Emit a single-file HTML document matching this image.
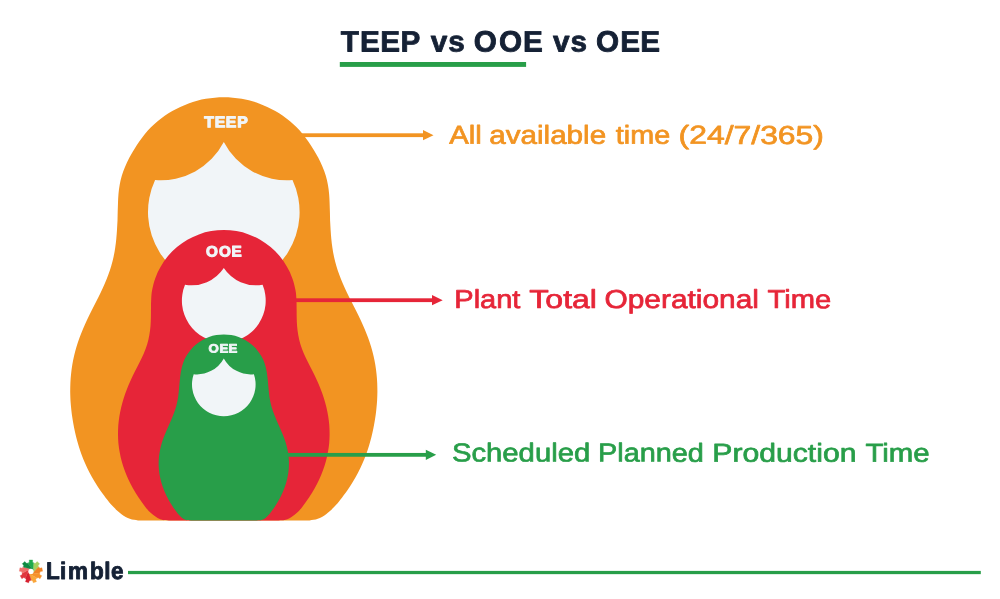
<!DOCTYPE html>
<html><head><meta charset="utf-8"><title>TEEP vs OOE vs OEE</title>
<style>
html,body{margin:0;padding:0;background:#fff}
svg{display:block}
text{font-family:"Liberation Sans",sans-serif;font-weight:700;text-rendering:geometricPrecision}
</style></head><body>
<svg width="1000" height="599" viewBox="0 0 1000 599">
<rect width="1000" height="599" fill="#fff"/>
<rect x="339.8" y="62" width="186.3" height="4.9" fill="#289E49"/>
<!-- dolls -->
<path d="M223.8 97.2 C217.8 97.2 211.8 97.7 205.9 98.8 C200.0 99.8 194.2 101.4 188.6 103.4 C183.0 105.5 177.5 108.0 172.3 111.0 C167.1 114.0 162.2 117.5 157.6 121.3 C153.0 125.1 148.7 129.4 144.9 134.0 C141.1 138.6 137.2 144.7 134.6 148.7 C132.0 152.7 130.9 154.7 129.3 157.7 C127.8 160.7 126.3 163.7 125.1 166.7 C123.8 169.7 122.7 172.7 121.8 175.7 C120.9 178.7 120.2 181.7 119.7 184.7 C119.1 187.7 118.8 190.7 118.5 193.7 C118.2 196.7 118.1 199.7 118.0 202.7 C117.9 205.7 117.8 208.7 117.7 211.7 C117.6 214.7 117.6 217.7 117.5 220.7 C117.3 223.7 117.2 226.7 117.0 229.7 C116.8 232.7 116.6 235.7 116.3 238.7 C116.0 241.7 115.7 244.7 115.2 247.7 C114.8 250.7 114.2 253.7 113.6 256.7 C112.9 259.7 112.2 262.7 111.3 265.7 C110.5 268.7 109.4 271.7 108.3 274.7 C107.2 277.7 106.0 280.7 104.7 283.7 C103.4 286.7 102.0 289.7 100.6 292.7 C99.2 295.7 97.6 298.7 96.1 301.7 C94.6 304.7 93.0 307.7 91.5 310.7 C90.0 313.7 88.5 316.7 87.1 319.7 C85.7 322.7 84.4 325.7 83.1 328.7 C81.9 331.7 80.6 334.7 79.5 337.7 C78.4 340.7 77.4 343.7 76.5 346.7 C75.6 349.7 74.8 352.7 74.1 355.7 C73.4 358.7 72.8 361.7 72.3 364.7 C71.8 367.7 71.4 370.7 71.1 373.7 C70.8 376.7 70.5 379.7 70.4 382.7 C70.3 385.7 70.2 388.7 70.2 391.7 C70.2 394.7 70.4 397.7 70.5 400.7 C70.7 403.7 71.0 406.7 71.3 409.7 C71.6 412.7 72.0 415.7 72.5 418.7 C73.0 421.7 73.5 424.7 74.1 427.7 C74.7 430.7 75.4 433.7 76.1 436.7 C76.9 439.7 77.7 442.7 78.6 445.7 C79.5 448.7 80.5 451.7 81.6 454.7 C82.7 457.7 83.9 460.7 85.3 463.7 C86.6 466.7 88.0 469.7 89.6 472.7 C91.2 475.7 92.8 478.7 94.7 481.7 C96.5 484.7 98.4 487.7 100.5 490.7 C102.6 493.7 105.2 497.0 107.3 499.7 C109.4 502.4 110.9 504.4 113.3 506.8 C115.6 509.2 118.7 512.2 121.5 514.2 C124.3 516.2 127.1 517.8 129.8 518.8 C132.6 519.8 135.5 520.1 138.0 520.4 C140.5 520.7 142.5 520.5 145.0 520.5 L302.6 520.5 C305.1 520.5 307.1 520.7 309.6 520.4 C312.1 520.1 315.1 519.8 317.8 518.8 C320.6 517.8 323.3 516.2 326.1 514.2 C328.9 512.2 332.0 509.2 334.3 506.8 C336.7 504.4 338.2 502.4 340.3 499.7 C342.4 497.0 345.0 493.7 347.1 490.7 C349.2 487.7 351.1 484.7 352.9 481.7 C354.8 478.7 356.4 475.7 358.0 472.7 C359.6 469.7 361.0 466.7 362.3 463.7 C363.7 460.7 364.9 457.7 366.0 454.7 C367.1 451.7 368.1 448.7 369.0 445.7 C369.9 442.7 370.7 439.7 371.5 436.7 C372.2 433.7 372.9 430.7 373.5 427.7 C374.1 424.7 374.6 421.7 375.1 418.7 C375.6 415.7 376.0 412.7 376.3 409.7 C376.6 406.7 376.9 403.7 377.1 400.7 C377.2 397.7 377.4 394.7 377.4 391.7 C377.4 388.7 377.3 385.7 377.2 382.7 C377.1 379.7 376.8 376.7 376.5 373.7 C376.2 370.7 375.8 367.7 375.3 364.7 C374.8 361.7 374.2 358.7 373.5 355.7 C372.8 352.7 372.0 349.7 371.1 346.7 C370.2 343.7 369.2 340.7 368.1 337.7 C367.0 334.7 365.7 331.7 364.5 328.7 C363.2 325.7 361.9 322.7 360.5 319.7 C359.1 316.7 357.6 313.7 356.1 310.7 C354.6 307.7 353.0 304.7 351.5 301.7 C350.0 298.7 348.4 295.7 347.0 292.7 C345.6 289.7 344.2 286.7 342.9 283.7 C341.6 280.7 340.4 277.7 339.3 274.7 C338.2 271.7 337.1 268.7 336.3 265.7 C335.4 262.7 334.7 259.7 334.0 256.7 C333.4 253.7 332.8 250.7 332.4 247.7 C331.9 244.7 331.6 241.7 331.3 238.7 C331.0 235.7 330.8 232.7 330.6 229.7 C330.4 226.7 330.3 223.7 330.1 220.7 C330.0 217.7 330.0 214.7 329.9 211.7 C329.8 208.7 329.7 205.7 329.6 202.7 C329.5 199.7 329.4 196.7 329.1 193.7 C328.8 190.7 328.5 187.7 327.9 184.7 C327.4 181.7 326.7 178.7 325.8 175.7 C324.9 172.7 323.8 169.7 322.5 166.7 C321.3 163.7 319.8 160.7 318.3 157.7 C316.7 154.7 315.6 152.7 313.0 148.7 C310.4 144.7 306.5 138.6 302.7 134.0 C298.9 129.4 294.6 125.1 290.0 121.3 C285.4 117.5 280.5 114.0 275.3 111.0 C270.1 108.0 264.6 105.5 259.0 103.4 C253.4 101.4 247.6 99.8 241.7 98.8 C235.8 97.7 229.8 97.2 223.8 97.2Z" fill="#F29422"/>
<path d="M223.8 142.0 A70.8 70.8 0 0 1 155.1 180.0 A75.8 75.8 0 1 0 292.5 180.0 A70.8 70.8 0 0 1 223.8 142.0Z" fill="#F1F5F8"/>
<rect x="300" y="133.3" width="123.5" height="3.8" fill="#F29422"/><path d="M423 130.1 L433.5 135.2 L423 140.3Z" fill="#F29422"/>
<path d="M223.8 230.0 C219.6 230.0 215.3 230.4 211.2 231.1 C207.0 231.8 202.9 232.9 198.9 234.4 C194.9 235.8 191.0 237.6 187.4 239.8 C183.8 241.9 180.2 244.3 177.0 247.0 C173.8 249.7 170.7 252.8 168.0 256.0 C165.3 259.2 162.9 262.8 160.8 266.4 C158.6 270.0 156.8 273.9 155.4 277.9 C153.9 281.9 152.8 286.6 152.1 290.2 C151.4 293.7 151.4 296.2 151.2 299.2 C151.0 302.2 151.0 305.2 151.0 308.2 C150.9 311.2 151.0 314.2 150.9 317.2 C150.8 320.2 150.8 323.2 150.5 326.2 C150.2 329.2 149.9 332.2 149.3 335.2 C148.8 338.2 148.1 341.2 147.2 344.2 C146.3 347.2 145.1 350.2 143.9 353.2 C142.6 356.2 141.1 359.2 139.6 362.2 C138.2 365.2 136.5 368.2 135.0 371.2 C133.5 374.2 132.0 377.2 130.7 380.2 C129.3 383.2 128.0 386.2 126.9 389.2 C125.7 392.2 124.6 395.2 123.7 398.2 C122.8 401.2 121.9 404.2 121.2 407.2 C120.5 410.2 119.9 413.2 119.4 416.2 C118.9 419.2 118.6 422.2 118.3 425.2 C118.1 428.2 118.0 431.2 118.0 434.2 C118.0 437.2 118.2 440.2 118.4 443.2 C118.7 446.2 119.1 449.2 119.7 452.2 C120.2 455.2 120.9 458.2 121.7 461.2 C122.5 464.2 123.5 467.2 124.6 470.2 C125.7 473.2 126.9 476.2 128.3 479.2 C129.7 482.2 131.2 485.2 132.9 488.2 C134.6 491.2 136.4 494.2 138.4 497.2 C140.4 500.2 143.1 503.9 144.8 506.2 C146.6 508.5 147.4 509.6 148.7 511.0 C150.0 512.4 151.2 513.3 152.7 514.5 C154.2 515.7 155.9 517.1 157.6 518.0 C159.3 518.9 161.1 519.7 163.0 520.1 C164.9 520.5 166.7 520.4 169.0 520.5 L278.6 520.5 C280.9 520.4 282.7 520.5 284.6 520.1 C286.5 519.7 288.3 518.9 290.0 518.0 C291.7 517.1 293.4 515.7 294.9 514.5 C296.4 513.3 297.6 512.4 298.9 511.0 C300.2 509.6 301.0 508.5 302.8 506.2 C304.5 503.9 307.2 500.2 309.2 497.2 C311.2 494.2 313.0 491.2 314.7 488.2 C316.4 485.2 317.9 482.2 319.3 479.2 C320.7 476.2 321.9 473.2 323.0 470.2 C324.1 467.2 325.1 464.2 325.9 461.2 C326.7 458.2 327.4 455.2 327.9 452.2 C328.5 449.2 328.9 446.2 329.2 443.2 C329.4 440.2 329.6 437.2 329.6 434.2 C329.6 431.2 329.5 428.2 329.3 425.2 C329.0 422.2 328.7 419.2 328.2 416.2 C327.7 413.2 327.1 410.2 326.4 407.2 C325.7 404.2 324.8 401.2 323.9 398.2 C323.0 395.2 321.9 392.2 320.7 389.2 C319.6 386.2 318.3 383.2 316.9 380.2 C315.6 377.2 314.1 374.2 312.6 371.2 C311.1 368.2 309.4 365.2 308.0 362.2 C306.5 359.2 305.0 356.2 303.7 353.2 C302.5 350.2 301.3 347.2 300.4 344.2 C299.5 341.2 298.8 338.2 298.3 335.2 C297.7 332.2 297.4 329.2 297.1 326.2 C296.8 323.2 296.8 320.2 296.7 317.2 C296.6 314.2 296.7 311.2 296.6 308.2 C296.6 305.2 296.6 302.2 296.4 299.2 C296.2 296.2 296.2 293.7 295.5 290.2 C294.8 286.6 293.7 281.9 292.2 277.9 C290.8 273.9 289.0 270.0 286.8 266.4 C284.7 262.8 282.3 259.2 279.6 256.0 C276.9 252.8 273.8 249.7 270.6 247.0 C267.4 244.3 263.8 241.9 260.2 239.8 C256.6 237.6 252.7 235.8 248.7 234.4 C244.7 232.9 240.6 231.8 236.4 231.1 C232.3 230.4 228.0 230.0 223.8 230.0Z" fill="#E62538"/>
<path d="M223.8 268.0 A38.8 38.8 0 0 1 185.0 284.8 A41.9 41.9 0 1 0 262.6 284.8 A38.8 38.8 0 0 1 223.8 268.0Z" fill="#F1F5F8"/>
<rect x="290" y="298.3" width="142.5" height="3.8" fill="#E62538"/><path d="M432 295.1 L442.7 300.2 L432 305.3Z" fill="#E62538"/>
<path d="M223.8 334.4 C221.3 334.4 218.7 334.6 216.3 335.1 C213.8 335.5 211.3 336.2 209.0 337.0 C206.6 337.9 204.3 338.9 202.2 340.2 C200.0 341.5 197.9 342.9 196.0 344.5 C194.0 346.1 192.2 347.9 190.6 349.9 C189.0 351.8 187.6 353.9 186.3 356.1 C185.0 358.2 184.0 360.5 183.1 362.9 C182.3 365.2 181.7 367.5 181.2 370.2 C180.6 372.9 180.2 376.2 179.9 379.2 C179.6 382.2 179.4 385.2 179.1 388.2 C178.8 391.2 178.5 394.2 178.1 397.2 C177.6 400.2 177.0 403.2 176.2 406.2 C175.4 409.2 174.3 412.2 173.1 415.2 C172.0 418.2 170.6 421.2 169.3 424.2 C168.0 427.2 166.6 430.2 165.4 433.2 C164.1 436.2 162.9 439.2 162.0 442.2 C161.1 445.2 160.3 448.2 159.8 451.2 C159.2 454.2 158.9 457.2 158.7 460.2 C158.6 463.2 158.6 466.2 158.9 469.2 C159.1 472.2 159.6 475.2 160.3 478.2 C160.9 481.2 161.8 484.2 162.9 487.2 C164.0 490.2 165.2 493.2 166.7 496.2 C168.2 499.2 170.3 502.7 171.9 505.2 C173.4 507.7 174.7 509.4 175.8 511.0 C177.0 512.6 177.6 513.3 178.6 514.5 C179.6 515.7 180.9 517.1 182.1 518.0 C183.3 518.9 184.5 519.7 186.0 520.1 C187.5 520.5 188.8 520.4 191.0 520.5 L256.6 520.5 C258.8 520.4 260.1 520.5 261.6 520.1 C263.1 519.7 264.3 518.9 265.5 518.0 C266.7 517.1 268.0 515.7 269.0 514.5 C270.0 513.3 270.6 512.6 271.8 511.0 C272.9 509.4 274.2 507.7 275.7 505.2 C277.3 502.7 279.4 499.2 280.9 496.2 C282.4 493.2 283.6 490.2 284.7 487.2 C285.8 484.2 286.7 481.2 287.3 478.2 C288.0 475.2 288.5 472.2 288.7 469.2 C289.0 466.2 289.0 463.2 288.9 460.2 C288.7 457.2 288.4 454.2 287.8 451.2 C287.3 448.2 286.5 445.2 285.6 442.2 C284.7 439.2 283.5 436.2 282.2 433.2 C281.0 430.2 279.6 427.2 278.3 424.2 C277.0 421.2 275.6 418.2 274.5 415.2 C273.3 412.2 272.2 409.2 271.4 406.2 C270.6 403.2 270.0 400.2 269.5 397.2 C269.1 394.2 268.8 391.2 268.5 388.2 C268.2 385.2 268.0 382.2 267.7 379.2 C267.4 376.2 267.0 372.9 266.4 370.2 C265.9 367.5 265.3 365.2 264.5 362.9 C263.6 360.5 262.6 358.2 261.3 356.1 C260.0 353.9 258.6 351.8 257.0 349.9 C255.4 347.9 253.6 346.1 251.6 344.5 C249.7 342.9 247.6 341.5 245.5 340.2 C243.3 338.9 241.0 337.9 238.6 337.0 C236.3 336.2 233.8 335.5 231.3 335.1 C228.9 334.6 226.3 334.4 223.8 334.4Z" fill="#289E49"/>
<path d="M223.8 358.4 A30.6 30.6 0 0 1 193.7 374.2 A31.8 31.8 0 1 0 253.9 374.2 A30.6 30.6 0 0 1 223.8 358.4Z" fill="#F1F5F8"/>
<rect x="286" y="452.95" width="140.3" height="3.8" fill="#289E49"/><path d="M425.8 449.75 L436.2 454.85 L425.8 459.95Z" fill="#289E49"/>
<g transform="matrix(1 0.0005 0 1 0 0)">
<text y="51.25" font-size="29.36" fill="#152135" stroke="#152135" stroke-width="0.8" stroke-linejoin="round" style="font-weight:700" transform="scale(1.0115,1)"><tspan x="336.86 355.86 375.88 395.83">TEEP</tspan> <tspan x="425.75 443.05">vs</tspan> <tspan x="468.45 493.36 516.94">OOE</tspan> <tspan x="546.69 563.99">vs</tspan> <tspan x="589.27 613.16 633.08">OEE</tspan></text>
<text y="127.24" font-size="15.55" fill="#F1F5F8" stroke="#F1F5F8" stroke-width="1.1" stroke-linejoin="round" style="font-weight:700" transform="scale(1.0157,1)"><tspan x="201.15 211.50 222.38 233.47">TEEP</tspan></text>
<text y="256.29" font-size="15.12" fill="#F1F5F8" stroke="#F1F5F8" stroke-width="1" stroke-linejoin="round" style="font-weight:700" transform="scale(1.0104,1)"><tspan x="203.95 216.70 229.15">OOE</tspan></text>
<text y="352.49" font-size="12.06" fill="#F1F5F8" stroke="#F1F5F8" stroke-width="0.8" stroke-linejoin="round" style="font-weight:700" transform="scale(1.0983,1)"><tspan x="189.75 199.76 208.00">OEE</tspan></text>
<text y="143.53" font-size="25.94" fill="#F29422" stroke="#F29422" stroke-width="0.7" stroke-linejoin="round" style="font-weight:400"><tspan x="449.15" textLength="32.61" lengthAdjust="spacingAndGlyphs">All</tspan> <tspan x="489.20" textLength="116.98" lengthAdjust="spacingAndGlyphs">available</tspan> <tspan x="615.79" textLength="54.37" lengthAdjust="spacingAndGlyphs">time</tspan> <tspan x="678.58" textLength="145.39" lengthAdjust="spacingAndGlyphs">(24/7/365)</tspan></text>
<text y="307.73" font-size="25.94" fill="#E62538" stroke="#E62538" stroke-width="0.7" stroke-linejoin="round" style="font-weight:400"><tspan x="454.34" textLength="66.10" lengthAdjust="spacingAndGlyphs">Plant</tspan> <tspan x="529.37" textLength="67.55" lengthAdjust="spacingAndGlyphs">Total</tspan> <tspan x="604.44" textLength="154.59" lengthAdjust="spacingAndGlyphs">Operational</tspan> <tspan x="767.57" textLength="63.71" lengthAdjust="spacingAndGlyphs">Time</tspan></text>
<text y="461.30" font-size="25.94" fill="#289E49" stroke="#289E49" stroke-width="0.7" stroke-linejoin="round" style="font-weight:400"><tspan x="451.96" textLength="138.25" lengthAdjust="spacingAndGlyphs">Scheduled</tspan> <tspan x="598.03" textLength="105.87" lengthAdjust="spacingAndGlyphs">Planned</tspan> <tspan x="712.32" textLength="144.12" lengthAdjust="spacingAndGlyphs">Production</tspan> <tspan x="865.43" textLength="64.27" lengthAdjust="spacingAndGlyphs">Time</tspan></text>
<text y="579.31" font-size="23.98" fill="#152135" stroke="#152135" stroke-width="0.9" stroke-linejoin="round" style="font-weight:700" transform="scale(0.9384,1)"><tspan x="49.09 63.95 72.41 95.85 111.23 118.30">Limble</tspan></text>
</g>
<!-- footer -->
<g id="logo"><path d="M32.94 569.78 L28.11 563.65 L28.34 562.63 L29.32 562.19 L29.24 559.98 L32.66 559.98 L32.58 562.19 L33.56 562.63 L33.79 563.65 L33.55 571.45 L33.39 570.56Z" fill="#1FAA4C" stroke="#1FAA4C" stroke-width="0.35" stroke-linejoin="round"/><path d="M33.55 571.45 L33.79 563.65 L34.62 563.01 L35.65 563.31 L37.01 561.56 L39.64 563.76 L38.15 565.41 L38.62 566.37 L38.14 567.30 L32.94 573.12 L33.39 572.34Z" fill="#A6D05F" stroke="#A6D05F" stroke-width="0.35" stroke-linejoin="round"/><path d="M32.94 573.12 L38.14 567.30 L39.18 567.34 L39.78 568.24 L41.95 567.77 L42.55 571.15 L40.35 571.45 L40.09 572.49 L39.12 572.89 L31.40 574.01 L32.25 573.70Z" fill="#F08324" stroke="#F08324" stroke-width="0.35" stroke-linejoin="round"/><path d="M31.40 574.01 L39.12 572.89 L39.90 573.60 L39.78 574.66 L41.74 575.70 L40.03 578.67 L38.15 577.49 L37.28 578.12 L36.29 577.81 L29.65 573.70 L30.50 574.01Z" fill="#F6922A" stroke="#F6922A" stroke-width="0.35" stroke-linejoin="round"/><path d="M29.65 573.70 L36.29 577.81 L36.42 578.85 L35.65 579.59 L36.49 581.64 L33.26 582.82 L32.58 580.71 L31.51 580.63 L30.95 579.75 L28.51 572.34 L28.96 573.12Z" fill="#F9A63A" stroke="#F9A63A" stroke-width="0.35" stroke-linejoin="round"/><path d="M28.51 572.34 L30.95 579.75 L30.39 580.63 L29.32 580.71 L28.64 582.82 L25.41 581.64 L26.25 579.59 L25.48 578.85 L25.61 577.81 L28.51 570.56 L28.35 571.45Z" fill="#D6202F" stroke="#D6202F" stroke-width="0.35" stroke-linejoin="round"/><path d="M28.51 570.56 L25.61 577.81 L24.62 578.12 L23.75 577.49 L21.87 578.67 L20.16 575.70 L22.12 574.66 L22.00 573.60 L22.78 572.89 L29.65 569.20 L28.96 569.78Z" fill="#E0373F" stroke="#E0373F" stroke-width="0.35" stroke-linejoin="round"/><path d="M29.65 569.20 L22.78 572.89 L21.81 572.49 L21.55 571.45 L19.35 571.15 L19.95 567.77 L22.12 568.24 L22.72 567.34 L23.76 567.30 L31.40 568.89 L30.50 568.89Z" fill="#EF6E69" stroke="#EF6E69" stroke-width="0.35" stroke-linejoin="round"/><path d="M31.40 568.89 L23.76 567.30 L23.28 566.37 L23.75 565.41 L22.26 563.76 L24.89 561.56 L26.25 563.31 L27.28 563.01 L28.11 563.65 L32.94 569.78 L32.25 569.20Z" fill="#0E8A42" stroke="#0E8A42" stroke-width="0.35" stroke-linejoin="round"/><circle cx="30.95" cy="571.45" r="2.6" fill="#fff"/></g>
<rect x="128" y="570.9" width="852.8" height="3.25" fill="#289E49"/>
</svg>
</body></html>
